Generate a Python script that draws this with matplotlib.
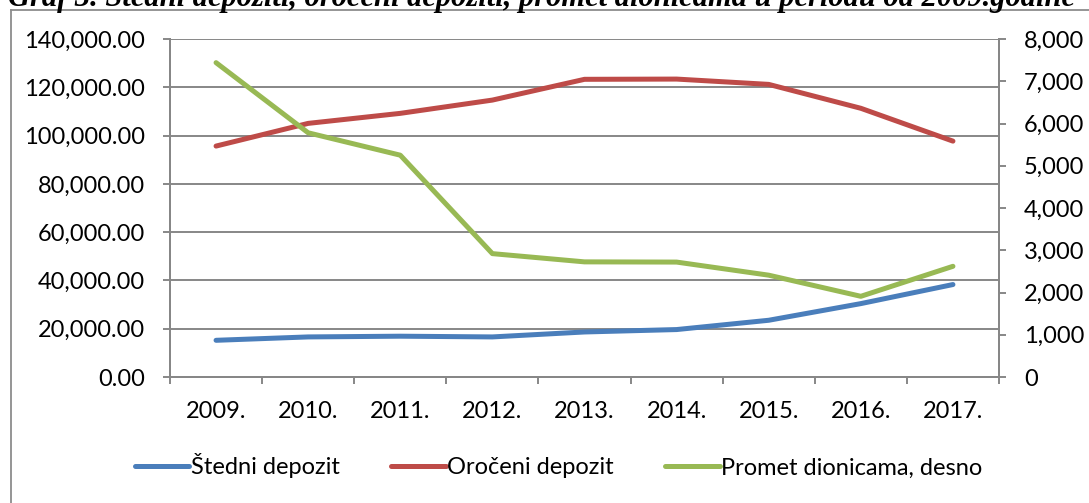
import matplotlib.pyplot as plt
from matplotlib.lines import Line2D
from matplotlib.ticker import FuncFormatter, FixedLocator

years = ["2009.", "2010.", "2011.", "2012.", "2013.", "2014.", "2015.", "2016.", "2017."]
stedni = [15200, 16600, 16900, 16600, 18650, 19650, 23500, 30400, 38300]
oroceni = [95650, 105050, 109200, 114700, 123300, 123400, 121200, 111300, 97700]
promet = [7440, 5780, 5250, 2920, 2725, 2720, 2410, 1910, 2620]

plt.rcParams['font.family'] = ['Lato', 'DejaVu Sans']
grey = '#878787'

fig = plt.figure(figsize=(10.89, 5.03), dpi=100)
ax = fig.add_axes([170 / 1089, 1 - 377 / 503, 829 / 1089, 338 / 503])
ax2 = ax.twinx()

x = list(range(len(years)))
l1, = ax.plot(x, stedni, color='#4A7EBB', lw=3.6, solid_capstyle='round', label='Štedni depozit')
l2, = ax.plot(x, oroceni, color='#BE4B48', lw=3.6, solid_capstyle='round', label='Oročeni depozit')
l3, = ax2.plot(x, promet, color='#98B954', lw=3.6, solid_capstyle='round', label='Promet dionicama, desno')

ax.set_xlim(-0.5, len(years) - 0.5)
ax.set_ylim(0, 140000)
ax2.set_ylim(0, 8000)
ax.set_yticks(range(0, 140001, 20000))
ax2.set_yticks(range(0, 8001, 1000))
ax.yaxis.set_major_formatter(FuncFormatter(lambda v, p: f"{v:,.2f}"))
ax2.yaxis.set_major_formatter(FuncFormatter(lambda v, p: f"{v:,.0f}"))
ax.grid(axis='y', color=grey, lw=1.4)
ax.set_axisbelow(True)

# category labels between boundary ticks
ax.xaxis.set_major_locator(FixedLocator([i - 0.5 for i in range(len(years) + 1)]))
ax.xaxis.set_major_formatter(FuncFormatter(lambda v, p: ''))
ax.set_xticks(x, minor=True)
ax.set_xticklabels(years, minor=True)
ax.tick_params(axis='x', which='minor', length=0, pad=17, labelsize=17)
ax.tick_params(axis='x', which='major', length=5, width=1.4, color=grey)
ax.tick_params(axis='y', length=5, width=1.4, color=grey, pad=13, labelsize=17)
ax2.tick_params(axis='y', length=5, width=1.4, color=grey, pad=13, labelsize=17)

for a in (ax, ax2):
    for s in a.spines.values():
        s.set_color(grey)
        s.set_linewidth(1.4)
    a.spines['top'].set_visible(False)

fig.legend(handles=[l1, l2, l3], loc='center', bbox_to_anchor=(0.513, 1 - 466 / 503),
           ncol=3, frameon=False, fontsize=17, handlelength=2.3, handletextpad=0.05,
           columnspacing=2.2)

# outer chart frame (left and top visible)
fig.add_artist(Line2D([11 / 1089, 11 / 1089], [0, 1 - 10 / 503], color='#8c8c8c', lw=1.3))
fig.add_artist(Line2D([11 / 1089, 1], [1 - 10 / 503, 1 - 10 / 503], color='#8c8c8c', lw=1.3))

fig.text(8 / 1089, 1 - 6 / 503, "Graf 3. Štedni depoziti, oročeni depoziti, promet dionicama u periodu od 2009.godine",
         family='Liberation Serif', weight='bold', style='italic', fontsize=22, va='baseline', ha='left')

fig.savefig('out.png', dpi=100)
